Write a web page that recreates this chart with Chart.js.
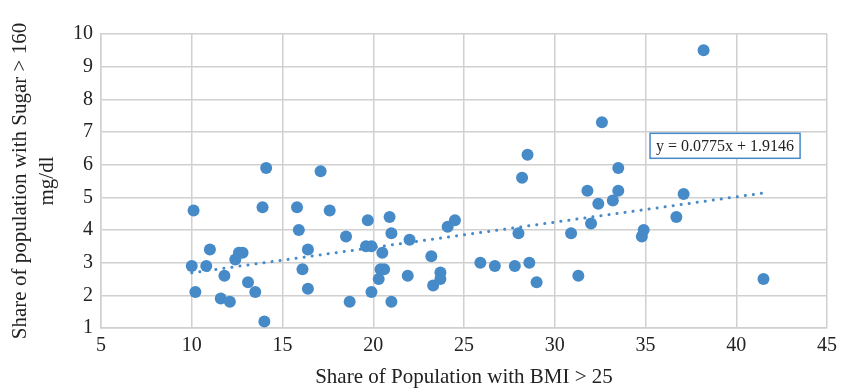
<!DOCTYPE html>
<html><head><meta charset="utf-8">
<script src="https://cdn.jsdelivr.net/npm/chart.js@4"></script>
<style>html,body{margin:0;padding:0;background:#fff}#wrap{width:843px;height:388px}</style>
</head><body><div id="wrap"><canvas id="c" width="843" height="388"></canvas></div>
<script>
const bmi = [10.0,10.1,10.2,10.8,11.0,11.6,11.8,12.1,12.4,12.6,12.8,13.1,13.5,13.9,14.0,14.1,15.8,15.9,16.1,16.4,16.4,17.1,17.6,18.5,18.7,19.7,19.6,19.9,19.9,20.3,20.4,20.6,20.5,20.9,21.0,21.0,21.9,22.0,23.2,23.3,23.7,23.7,24.1,24.5,25.9,26.7,27.8,28.0,28.2,28.5,28.6,29.0,30.9,31.3,31.8,32.0,32.4,32.6,33.2,33.5,33.5,34.8,34.9,36.7,37.1,38.2,41.5];
const sugar = [2.9,4.6,2.1,2.9,3.4,1.9,2.6,1.8,3.1,3.3,3.3,2.4,2.1,4.7,1.2,5.9,4.7,4.0,2.8,3.4,2.2,5.8,4.6,3.8,1.8,4.3,3.5,3.5,2.1,2.5,2.8,2.8,3.3,4.4,3.9,1.8,2.6,3.7,3.2,2.3,2.7,2.5,4.1,4.3,3.0,2.9,2.9,3.9,5.6,6.3,3.0,2.4,3.9,2.6,5.2,4.2,4.8,7.3,4.9,5.2,5.9,3.8,4.0,4.4,5.1,9.5,2.5];
const slope = 0.0775, intercept = 1.9146;
const equationLabel = 'y = 0.0775x + 1.9146';
const xTitle = 'Share of Population with BMI > 25';
const yTitle = ['Share of population with Sugar > 160', 'mg/dl'];

const blue = 'rgb(70,138,200)';
const pts = bmi.map((x,i)=>({x:x,y:sugar[i]}));
const xmin = Math.min(...bmi), xmax = Math.max(...bmi);
const trend = [{x:xmin,y:slope*xmin+intercept},{x:xmax,y:slope*xmax+intercept}];

const eqPlugin = {
  id:'eq',
  afterDatasetsDraw(chart){
    const {ctx, scales:{x,y}} = chart;
    const left = x.getPixelForValue(35.25), top = y.getPixelForValue(6.96);
    ctx.save();
    ctx.font = '16px "Liberation Serif"';
    const w = ctx.measureText(equationLabel).width;
    const bw = w + 12, bh = 25;
    ctx.fillStyle = '#fff';
    ctx.fillRect(left, top, bw, bh);
    ctx.strokeStyle = 'rgb(70,138,200)';
    ctx.lineWidth = 1.5;
    ctx.strokeRect(left, top, bw, bh);
    ctx.fillStyle = '#222';
    ctx.textBaseline = 'middle';
    ctx.fillText(equationLabel, left + 6, top + bh/2 + 1);
    ctx.restore();
  }
};

new Chart(document.getElementById('c'), {
  type:'scatter',
  data:{datasets:[
    {data:trend, type:'line', showLine:true, borderColor:blue, borderWidth:3, borderDash:[0.1,8], borderCapStyle:'round', pointRadius:0, fill:false, order:2},
    {data:pts, backgroundColor:blue, borderWidth:0, pointRadius:6, pointHoverRadius:6, order:1}
  ]},
  options:{
    responsive:false, animation:false,
    layout:{padding:{left:4,right:14,top:34,bottom:0}},
    plugins:{legend:{display:false}, tooltip:{enabled:false}},
    scales:{
      x:{type:'linear', min:5, max:45,
        ticks:{stepSize:5, color:'#222', font:{family:'Liberation Serif', size:20}, padding:6},
        grid:{color:'#d0d0d0', lineWidth:1.5, drawTicks:false},
        border:{color:'#d0d0d0', width:1.5},
        title:{display:true, text:xTitle, color:'#222', font:{family:'Liberation Serif', size:21, lineHeight:1.0}, padding:{top:0,bottom:0}},
        afterFit(s){ s.height = 60; }
      },
      y:{type:'linear', min:1, max:10,
        ticks:{stepSize:1, color:'#222', font:{family:'Liberation Serif', size:20}, padding:8},
        grid:{color:'#d0d0d0', lineWidth:1.5, drawTicks:false},
        border:{color:'#d0d0d0', width:1.5},
        title:{display:true, text:yTitle, color:'#222', font:{family:'Liberation Serif', size:21, lineHeight:1.29}, padding:{top:2.5,bottom:0}},
        afterFit(s){ s.width = 97; }
      }
    }
  },
  plugins:[eqPlugin]
});
</script></body></html>
